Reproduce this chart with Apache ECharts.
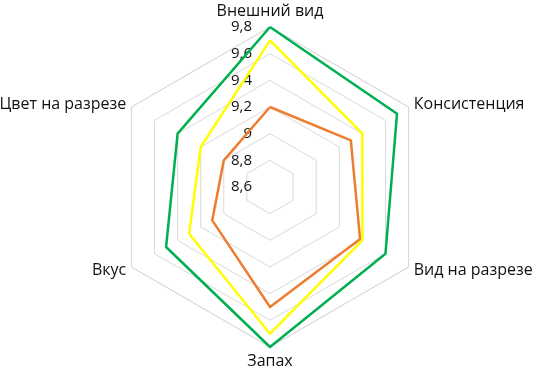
<!DOCTYPE html>
<html><head><meta charset="utf-8">
<script src="https://cdn.jsdelivr.net/npm/echarts@6/dist/echarts.min.js"></script>
<style>html,body{margin:0;padding:0;background:#fff}#c{width:537px;height:372px}</style>
</head><body><div id="c"></div>
<script>
var indicators = ['Внешний вид','Консистенция','Вид на разрезе','Запах','Вкус','Цвет на разрезе'];
var axisMin = 8.6, axisMax = 9.8, axisSplits = 6;
var seriesOrange = [9.2, 9.3, 9.38, 9.5, 9.1, 9.0];
var seriesYellow = [9.7, 9.4, 9.4, 9.7, 9.3, 9.2];
var seriesGreen  = [9.8, 9.7, 9.6, 9.8, 9.5, 9.4];

// ECharts radar runs counter-clockwise; reorder so the chart reads clockwise
var order = [0, 5, 4, 3, 2, 1];
function ro(arr) { return order.map(function (i) { return arr[i]; }); }

var chart = echarts.init(document.getElementById('c'));
var font = 'Open Sans';
chart.setOption({
  animation: false,
  radar: {
    center: [270, 187],
    radius: 160,
    startAngle: 90,
    shape: 'polygon',
    splitNumber: axisSplits,
    axisName: { color: '#111', fontFamily: font, fontSize: 16 },
    nameGap: 6,
    splitLine: { lineStyle: { color: '#d9d9d9', width: 1 } },
    splitArea: { show: false },
    axisLine: { show: false },
    axisTick: { show: false },
    axisLabel: { show: false },
    indicator: ro(indicators).map(function (n, i) {
      var o = { name: n, min: axisMin, max: axisMax };
      if (i === 0) {
        o.axisLabel = {
          show: true, color: '#111', fontFamily: font, fontSize: 15, margin: 18,
          formatter: function (v) { return String(Math.round(v * 10) / 10).replace('.', ','); }
        };
      }
      return o;
    })
  },
  series: [{
    type: 'radar',
    symbol: 'none',
    data: [
      { value: ro(seriesOrange), lineStyle: { color: '#ED7D31', width: 2.5 } },
      { value: ro(seriesYellow), lineStyle: { color: '#FFFF00', width: 2.5 } },
      { value: ro(seriesGreen),  lineStyle: { color: '#00B050', width: 2.5 } }
    ]
  }]
});
</script></body></html>
